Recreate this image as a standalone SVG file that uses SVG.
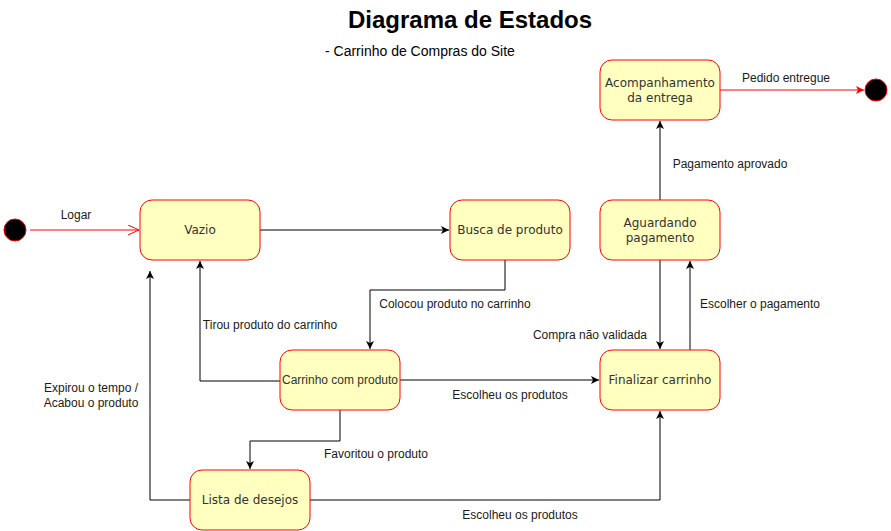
<svg xmlns="http://www.w3.org/2000/svg" width="891" height="531" viewBox="0 0 891 531">
<style>
.state{fill:#FFFFC0;stroke:#FF0000;stroke-width:1}
.nt{font-family:"DejaVu Sans",sans-serif;font-size:12px;fill:#333333;text-anchor:middle}
.nta{font-family:"Liberation Sans",Arial,sans-serif;font-size:12px;fill:#333333;text-anchor:middle}
.lbl{font-family:"Liberation Sans",Arial,sans-serif;font-size:12px;fill:#1a1a1a;text-anchor:middle}
.e{fill:none;stroke:#000000;stroke-width:1}
.er{fill:none;stroke:#FF0000;stroke-width:1}
.pt{fill:#000000;stroke:#FF0000;stroke-width:1}
</style>
<defs>
<marker id="arr" markerWidth="10" markerHeight="10" refX="8" refY="4" orient="auto" markerUnits="userSpaceOnUse">
<path d="M0,0 L8,4 L0,8 L2,4 Z" fill="#000000"/>
</marker>
<marker id="arrRed" markerWidth="10" markerHeight="10" refX="8" refY="4" orient="auto" markerUnits="userSpaceOnUse">
<path d="M0,0 L8,4 L0,8 L2,4 Z" fill="#FF0000"/>
</marker>
<marker id="openRed" markerWidth="12" markerHeight="12" refX="11" refY="5" orient="auto" markerUnits="userSpaceOnUse">
<path d="M0,0 L11,5 L0,10" fill="none" stroke="#FF0000" stroke-width="1"/>
</marker>
</defs>
<rect width="891" height="531" fill="#FFFFFF"/>
<text x="470" y="28" font-family="Liberation Sans,Arial,sans-serif" font-size="24" font-weight="bold" text-anchor="middle" fill="#000">Diagrama de Estados</text>
<text x="325" y="56" font-family="Liberation Sans,Arial,sans-serif" font-size="14" fill="#000">- Carrinho de Compras do Site</text>

<g id="connectors">
<path class="er" d="M30,230 L139,230" marker-end="url(#openRed)"/>
<text class="lbl" x="76" y="219">Logar</text>
<path class="e" d="M260,230 L449,230" marker-end="url(#arr)"/>
<path class="e" d="M505,260 L505,290 L370,290 L370,349" marker-end="url(#arr)"/>
<text class="lbl" x="455" y="308">Colocou produto no carrinho</text>
<path class="e" d="M280,381 L200,381 L200,261" marker-end="url(#arr)"/>
<text class="lbl" x="270" y="329">Tirou produto do carrinho</text>
<path class="e" d="M400,380 L599,380" marker-end="url(#arr)"/>
<text class="lbl" x="510" y="399">Escolheu os produtos</text>
<path class="e" d="M340,410 L340,441 L250,441 L250,469" marker-end="url(#arr)"/>
<text class="lbl" x="376" y="458">Favoritou o produto</text>
<path class="e" d="M190,500 L150,500 L150,271" marker-end="url(#arr)"/>
<text class="lbl" x="91" y="392">Expirou o tempo /</text>
<text class="lbl" x="91" y="407">Acabou o produto</text>
<path class="e" d="M310,500 L660,500 L660,411" marker-end="url(#arr)"/>
<text class="lbl" x="520" y="519">Escolheu os produtos</text>
<path class="e" d="M690,350 L690,261" marker-end="url(#arr)"/>
<text class="lbl" x="760" y="308">Escolher o pagamento</text>
<path class="e" d="M660,260 L660,349" marker-end="url(#arr)"/>
<text class="lbl" x="590" y="339">Compra não validada</text>
<path class="e" d="M660,200 L660,121" marker-end="url(#arr)"/>
<text class="lbl" x="730" y="168">Pagamento aprovado</text>
<path class="er" d="M720,90 L864,90" marker-end="url(#arrRed)"/>
<text class="lbl" x="786" y="82">Pedido entregue</text>
</g>

<g id="start"><circle class="pt" cx="15" cy="230" r="11"/></g>
<g id="end"><circle class="pt" cx="876" cy="90" r="11"/></g>

<g id="vazio"><rect class="state" x="140" y="200" width="120" height="60" rx="12"/><text class="nt" x="200" y="234">Vazio</text></g>
<g id="busca"><rect class="state" x="450" y="200" width="120" height="60" rx="12"/><text class="nt" x="510" y="234">Busca de produto</text></g>
<g id="aguardando"><rect class="state" x="600" y="200" width="120" height="60" rx="12"/><text class="nt" x="660" y="227">Aguardando</text><text class="nt" x="660" y="242">pagamento</text></g>
<g id="acompanhamento"><rect class="state" x="600" y="60" width="120" height="60" rx="12"/><text class="nt" x="660" y="87">Acompanhamento</text><text class="nt" x="660" y="102">da entrega</text></g>
<g id="carrinho"><rect class="state" x="280" y="350" width="120" height="60" rx="12"/><text class="nta" x="340" y="384">Carrinho com produto</text></g>
<g id="finalizar"><rect class="state" x="600" y="350" width="120" height="60" rx="12"/><text class="nt" x="660" y="384">Finalizar carrinho</text></g>
<g id="lista"><rect class="state" x="190" y="470" width="120" height="60" rx="12"/><text class="nt" x="250" y="504">Lista de desejos</text></g>
</svg>
